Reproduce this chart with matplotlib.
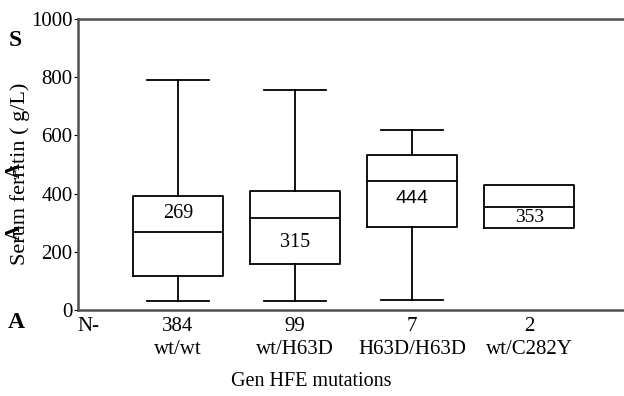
import matplotlib.pyplot as plt

groups = ['wt/wt', 'wt/H63D', 'H63D/H63D', 'wt/C282Y']
counts = ['384', '99', '7', '2']
whis_lo = [32, 32, 35, 283]
q1 = [117, 157, 286, 283]
med = [269, 315, 444, 353]
q3 = [393, 410, 534, 431]
whis_hi = [790, 755, 617, 431]
med_text_y = [330, 232, 383, 318]

plt.rcParams['font.family'] = ['Liberation Serif', 'DejaVu Serif']

fig = plt.figure(figsize=(6.24, 3.96), dpi=100)
ax = fig.add_axes([78 / 624, 1 - 310 / 396, 1 - 78 / 624, (310 - 19) / 396])

stats = []
for i in range(len(groups)):
    stats.append({'med': med[i], 'q1': q1[i], 'q3': q3[i],
                  'whislo': whis_lo[i], 'whishi': whis_hi[i], 'fliers': []})

pos = [1, 2, 3, 4]
res = ax.bxp(stats, positions=pos, widths=0.77, capwidths=0.53,
             showfliers=False,
             boxprops=dict(color='black', linewidth=1.3),
             medianprops=dict(color='black', linewidth=1.3),
             whiskerprops=dict(color='black', linewidth=1.3),
             capprops=dict(color='black', linewidth=1.3))
# last group has only 2 cases: no whiskers / caps
for art in res['caps'][6:] + res['whiskers'][6:]:
    art.set_visible(False)

for i in range(len(groups)):
    fam = 'Liberation Sans' if i == 2 else 'Liberation Serif'
    ax.text(pos[i], med_text_y[i], str(med[i]), ha='center', va='center',
            fontsize=14.5 if i < 2 else 14, family=fam)

ax.set_xlim(0.145, 4.81)
ax.set_ylim(0, 1000)
ax.set_yticks([0, 200, 400, 600, 800, 1000])
ax.set_xticks([0.23] + pos)
ax.set_xticklabels(['N-'] + [c + '\n' + g for c, g in zip(counts, groups)],
                   fontsize=15, linespacing=1.3)
ax.tick_params(axis='x', length=0, pad=5)
ax.tick_params(axis='y', length=3, labelsize=15, pad=1)
ax.spines['right'].set_visible(False)
for s in ['left', 'top', 'bottom']:
    ax.spines[s].set_color('#505050')
    ax.spines[s].set_linewidth(1.8)

fig.text(0.498, 1 - 381 / 396, 'Gen HFE mutations', ha='center', va='center', fontsize=14.5)
fig.text(20 / 624, 1 - 174 / 396, 'Serum ferritin ( g/L)', rotation=90,
         ha='center', va='center', fontsize=16)
fig.text(15 / 624, 1 - 40 / 396, 'S', fontsize=17, fontweight='bold', ha='center', va='center')
fig.text(15 / 624, 1 - 170 / 396, 'A', fontsize=15, fontweight='bold', rotation=90, ha='center', va='center')
fig.text(15 / 624, 1 - 232 / 396, 'A', fontsize=15, fontweight='bold', rotation=90, ha='center', va='center')
fig.text(16 / 624, 1 - 323 / 396, 'A', fontsize=17, fontweight='bold', ha='center', va='center')

fig.savefig('out.png', dpi=100)
